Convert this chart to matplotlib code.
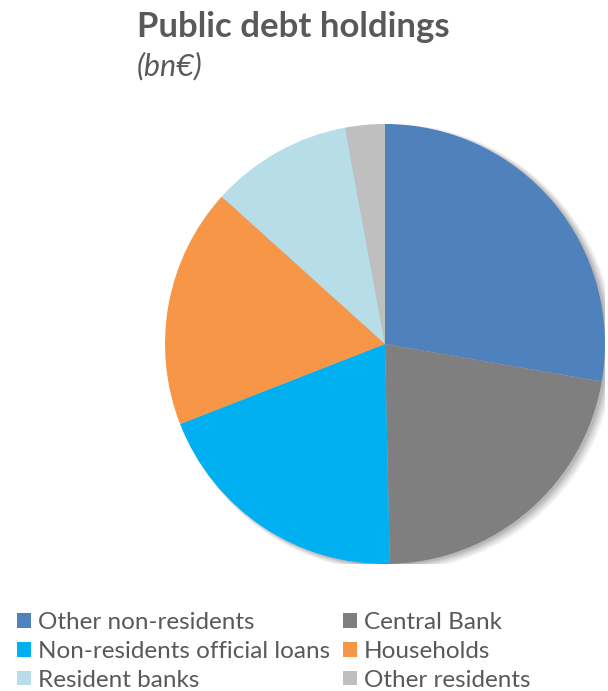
import matplotlib
matplotlib.use("Agg")
import matplotlib.pyplot as plt
from matplotlib.patches import Circle, Patch

# Holdings of public debt, bn€
labels = ["Other non-residents", "Central Bank", "Non-residents official loans",
          "Households", "Resident banks", "Other residents"]
values = [27.7, 21.9, 19.4, 17.6, 10.4, 2.9]
colors = ["#4f81bd", "#7f7f7f", "#00b0f0", "#f79646", "#b7dee8", "#bfbfbf"]

text_color = "#595959"
plt.rcParams['font.family'] = ['Lato', 'DejaVu Sans']

fig = plt.figure(figsize=(6.08, 6.91), dpi=100)
W, H = 608, 691
cx, cy, r = 385, 344, 220
ax = fig.add_axes([(cx - r) / W, (H - cy - r) / H, 2 * r / W, 2 * r / H])
ax.set_aspect("equal")

# soft drop shadow behind the pie
for i, a in enumerate([0.05, 0.05, 0.06, 0.07, 0.08]):
    off = 0.012 + 0.004 * (4 - i)
    ax.add_patch(Circle((off, -off * 0.6), 1.0 + 0.004 * (4 - i),
                        color="black", alpha=a, lw=0, zorder=0))

ax.pie(values, colors=colors, startangle=90, counterclock=False,
       radius=1.0, wedgeprops=dict(linewidth=0), frame=False)
ax.set_xlim(-1.0, 1.0)
ax.set_ylim(-1.0, 1.0)

fig.text(137 / W, 1 - 37 / H, "Public debt holdings", fontsize=25,
         fontweight="bold", color=text_color, ha="left", va="baseline")
fig.text(137 / W, 1 - 75 / H, "(bn€)", fontsize=22, style="italic",
         color=text_color, ha="left", va="baseline")

handles = [Patch(facecolor=c, edgecolor="none") for c in colors]
order = [0, 2, 4, 1, 3, 5]
fig.legend([handles[i] for i in order], [labels[i] for i in order],
           loc="upper left", bbox_to_anchor=(5 / W, 1 - 600 / H), ncol=2,
           frameon=False, fontsize=17.5, labelcolor=text_color,
           handlelength=0.55, handleheight=0.55, handletextpad=0.3,
           columnspacing=0.55, labelspacing=0.32, borderpad=0)

fig.savefig("out.png", dpi=100)
